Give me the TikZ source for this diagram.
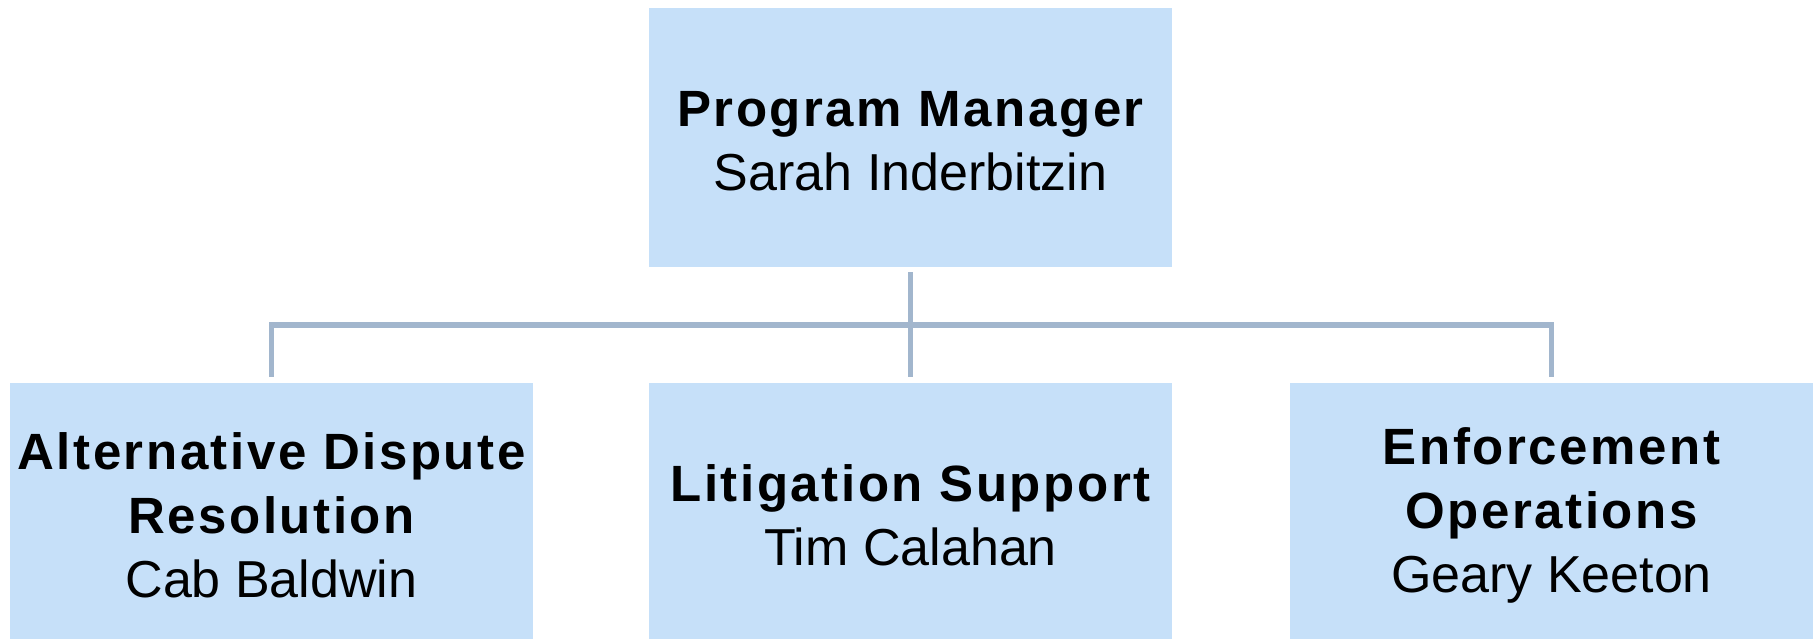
\documentclass[tikz,border=0pt]{standalone}
\usepackage{fontspec}
\setmainfont{Liberation Sans}[BoldFeatures={LetterSpace=5}]
\definecolor{boxblue}{RGB}{198,224,249}
\definecolor{linkgray}{RGB}{162,182,205}
\begin{document}
\begin{tikzpicture}[x=1pt,y=-1pt,
  unitbox/.style={rectangle, fill=boxblue, draw=none, inner sep=0pt,
    minimum width=523pt, minimum height=256pt},
  unittext/.style={align=center, inner sep=0pt, font=\fontsize{52}{64}\selectfont},
  conn/.style={draw=linkgray, line width=5.5pt, line join=miter}]
\useasboundingbox (0,0) rectangle (1820,639);
\newcommand{\unithead}[1]{{\fontsize{51}{64}\selectfont\bfseries #1}}

% boxes, with their text set a little below each box centre
\node[unitbox, minimum height=259pt] (pm) at (910.5,137.5) {};
\node[unittext] (pmtext) at ([yshift=-4pt]pm.center)
  {\unithead{Program Manager}\\Sarah Inderbitzin};
\node[unitbox] (adr) at (271.5,511) {};
\node[unittext] (adrtext) at ([yshift=-4pt]adr.center)
  {\unithead{Alternative Dispute}\\\unithead{Resolution}\\Cab Baldwin};
\node[unitbox] (lit) at (910.5,511) {};
\node[unittext] (littext) at ([yshift=-4pt]lit.center)
  {\unithead{Litigation Support}\\Tim Calahan};
\node[unitbox] (enf) at (1551.5,511) {};
\node[unittext] (enftext) at ([yshift=-4pt]enf.center)
  {\unithead{Enforcement}\\\unithead{Operations}\\Geary Keeton};

% connectors
\coordinate (busy) at (0,325);
\draw[conn] ([yshift=6pt]adr.north) -- (adr.north |- busy)
  -- (enf.north |- busy) -- ([yshift=6pt]enf.north);
\draw[conn] ([yshift=-5pt]pm.south) -- ([yshift=6pt]lit.north);
\end{tikzpicture}
\end{document}
